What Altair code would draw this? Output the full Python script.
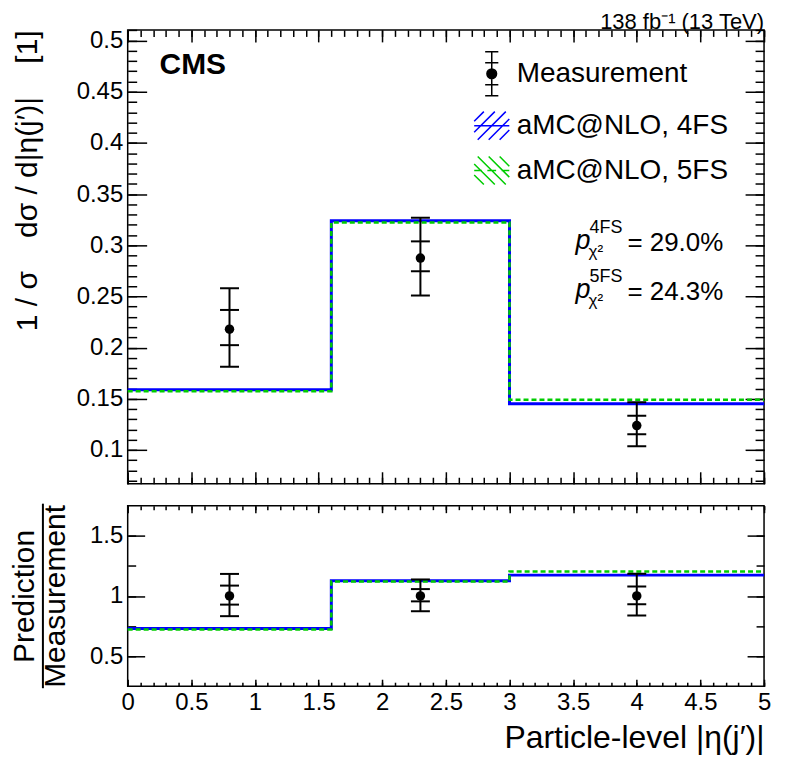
import altair as alt
import pandas as pd

# ---------------- data ----------------
bin_edges = [0.0, 1.6, 3.0, 5.0]
bin_centers = [0.8, 2.3, 4.0]

meas = [0.218, 0.2875, 0.1238]
meas_tot_lo = [0.1813, 0.2509, 0.1037]
meas_tot_hi = [0.2580, 0.3269, 0.1466]
meas_stat_lo = [0.2024, 0.2746, 0.1154]
meas_stat_hi = [0.2368, 0.3038, 0.1335]
pred_4fs = [0.1589, 0.3240, 0.1452]
pred_5fs = [0.1573, 0.3223, 0.1490]

ratio_meas = [1.0, 1.0, 1.0]
ratio_tot_lo = [0.832, 0.873, 0.838]
ratio_tot_hi = [1.183, 1.137, 1.184]
ratio_stat_lo = [0.928, 0.955, 0.932]
ratio_stat_hi = [1.086, 1.057, 1.078]
ratio_4fs = [0.729, 1.127, 1.173]
ratio_5fs = [0.722, 1.121, 1.203]

series_names = ["Measurement", "aMC@NLO, 4FS", "aMC@NLO, 5FS"]

x_major = [0, 0.5, 1, 1.5, 2, 2.5, 3, 3.5, 4, 4.5, 5]
x_minor = [round(0.1 * i, 1) for i in range(51)]
top_y_major = [0.1, 0.15, 0.2, 0.25, 0.3, 0.35, 0.4, 0.45, 0.5]
top_y_minor = [round(0.07 + 0.01 * i, 2) for i in range(45)]
ratio_y_major = [0.5, 1.0, 1.5]
ratio_y_minor = [0.5, 0.75, 1.0, 1.25, 1.5]

p_text = [("4FS", "= 29.0%"), ("5FS", "= 24.3%")]

# ---------------- styles ----------------
BLUE = "#0000ff"
GREEN = "#00cc00"
FONT = "Liberation Sans"
W = 638
H_TOP = 455
H_RATIO = 181

X_SC = alt.Scale(domain=[0, 5], nice=False, zero=False)
Y_TOP = alt.Scale(domain=[0.067, 0.5104], nice=False, zero=False)
Y_RAT = alt.Scale(domain=[0.25, 1.75], nice=False, zero=False)


def tick_axis(orient, values, size, **kw):
    base = dict(orient=orient, values=values, tickSize=size, offset=-size,
                domain=False, grid=False, ticks=True, tickColor="black",
                tickWidth=1.5, labels=False, title=None, minExtent=0)
    base.update(kw)
    return alt.Axis(**base)


def axis_layer(df, ysc, xaxis, yaxis):
    return alt.Chart(df).mark_point(opacity=0).encode(
        x=alt.X("x:Q", scale=X_SC, axis=xaxis),
        y=alt.Y("y:Q", scale=ysc, axis=yaxis),
    )


def step_df(vals):
    return pd.DataFrame({"x": bin_edges, "y": vals + [vals[-1]]})


def data_layers(ysc, centers, vals, tlo, thi, slo, shi, v4, v5):
    df = pd.DataFrame({"x": centers, "y": vals, "tlo": tlo, "thi": thi,
                       "slo": slo, "shi": shi})
    caps = pd.DataFrame({"x": centers * 4, "y": tlo + thi + slo + shi})
    X = alt.X("x:Q", scale=X_SC, axis=None)
    l4 = alt.Chart(step_df(v4)).mark_line(
        interpolate="step-after", color=BLUE, strokeWidth=3).encode(
        x=X, y=alt.Y("y:Q", scale=ysc, axis=None))
    l5 = alt.Chart(step_df(v5)).mark_line(
        interpolate="step-after", color=GREEN, strokeWidth=2.5,
        strokeDash=[5, 3]).encode(
        x=X, y=alt.Y("y:Q", scale=ysc, axis=None))
    bars = alt.Chart(df).mark_rule(color="black", strokeWidth=2).encode(
        x=X, y=alt.Y("tlo:Q", scale=ysc, axis=None), y2="thi:Q")
    capm = alt.Chart(caps).mark_tick(
        orient="horizontal", size=19, thickness=2, color="black",
        opacity=1).encode(x=X, y=alt.Y("y:Q", scale=ysc, axis=None))
    pts = alt.Chart(df).mark_circle(size=90, color="black", opacity=1).encode(
        x=X, y=alt.Y("y:Q", scale=ysc, axis=None))
    return [l4, l5, bars, capm, pts]


def text_layer(text, x, y, size, **kw):
    return alt.Chart(pd.DataFrame({"t": [text]})).mark_text(
        align="left", baseline="alphabetic", fontSize=size, font=FONT,
        color="black", **kw).encode(x=alt.value(x), y=alt.value(y), text="t:N")


# ---------------- top panel ----------------
top_df = pd.DataFrame({"x": bin_centers, "y": meas})

top_axes = [
    axis_layer(top_df, Y_TOP,
               tick_axis("bottom", x_major, 12),
               tick_axis("left", top_y_major, 19, labels=True, format=".2~f",
                         labelFontSize=24, labelPadding=5, labelFlush=False,
                         labelOverlap=False,
                         title="1 / σ\u00a0\u00a0\u00a0\u00a0dσ / d|η(j′)|\u00a0\u00a0\u00a0\u00a0[1]",
                         titleFontSize=30, titleFontWeight="normal",
                         titleAnchor="end", titlePadding=34)),
    axis_layer(top_df, Y_TOP,
               tick_axis("bottom", x_minor, 6.5),
               tick_axis("left", top_y_minor, 9)),
    axis_layer(top_df, Y_TOP,
               tick_axis("top", x_major, 12),
               tick_axis("right", top_y_major, 19)),
    axis_layer(top_df, Y_TOP,
               tick_axis("top", x_minor, 6.5),
               tick_axis("right", top_y_minor, 9)),
]

paths = [
    "M0,-1L0,1M-0.3,-1L0.3,-1M-0.3,1L0.3,1M-0.3,-0.5L0.3,-0.5M-0.3,0.5L0.3,0.5"
    "M-0.22,0A0.22,0.22,0,1,0,0.22,0A0.22,0.22,0,1,0,-0.22,0Z",
    "M-0.8,0L0.8,0M-0.8,-0.2L-0.36,-0.64M-0.8,0.3L0.14,-0.64M-0.64,0.64L0.64,-0.64"
    "M-0.14,0.64L0.8,-0.3M0.36,0.64L0.8,0.2",
    "M-0.8,0L-0.45,0M-0.2,0L0.2,0M0.45,0L0.8,0M0.8,-0.2L0.36,-0.64M0.8,0.3L-0.14,-0.64"
    "M0.64,0.64L-0.64,-0.64M0.14,0.64L-0.8,-0.3M-0.36,0.64L-0.8,0.2",
]
leg = alt.Legend(title=None, orient="none", legendX=342, legendY=21,
                 symbolSize=1936, symbolStrokeWidth=1.5, labelFontSize=28,
                 labelFont=FONT, labelColor="black", labelOffset=2,
                 labelLimit=400, rowPadding=4, padding=0)
leg_df = pd.DataFrame({"series": series_names, "x": [-1.0] * 3, "y": [0.3] * 3})
legend_layer = alt.Chart(leg_df).mark_point(
    filled=True, opacity=1, clip=True, size=1936, strokeWidth=1.5).encode(
    x=alt.X("x:Q", scale=X_SC, axis=None),
    y=alt.Y("y:Q", scale=Y_TOP, axis=None),
    color=alt.Color("series:N", scale=alt.Scale(domain=series_names,
                    range=["black", BLUE, GREEN]), legend=leg),
    stroke=alt.Stroke("series:N", scale=alt.Scale(domain=series_names,
                      range=["black", BLUE, GREEN]), legend=leg),
    shape=alt.Shape("series:N", scale=alt.Scale(domain=series_names,
                    range=paths), legend=leg),
)

annot = [text_layer("CMS", 32, 44, 30, fontWeight="bold")]
for i, (sup, val) in enumerate(p_text):
    dy = 49 * i
    annot += [
        text_layer("p", 449, 220 + dy, 27, fontStyle="italic"),
        text_layer(sup, 463, 204 + dy, 18),
        text_layer("χ²", 462, 228 + dy, 17),
        text_layer(val, 501, 222 + dy, 26),
    ]

top = alt.layer(
    *top_axes,
    *data_layers(Y_TOP, bin_centers, meas, meas_tot_lo, meas_tot_hi,
                 meas_stat_lo, meas_stat_hi, pred_4fs, pred_5fs),
    legend_layer,
    *annot,
).properties(
    width=W, height=H_TOP,
    title=alt.Title("138 fb⁻¹ (13 TeV)", anchor="end", frame="group",
                    fontSize=22, fontWeight="normal", font=FONT, offset=-5,
                    color="black"),
).resolve_axis(x="independent", y="independent")

# ---------------- ratio panel ----------------
rat_df = pd.DataFrame({"x": bin_centers, "y": ratio_meas})
ratio_axes = [
    axis_layer(rat_df, Y_RAT,
               tick_axis("bottom", x_major, 7, labels=True, format="~g",
                         labelFontSize=24, labelPadding=4, labelFlush=False,
                         labelOverlap=False,
                         title="Particle-level |η(j′)|", titleFontSize=32,
                         titleFontWeight="normal", titleAnchor="end",
                         titlePadding=8),
               tick_axis("left", ratio_y_major, 17, labels=True, format="~g",
                         labelFontSize=24, labelPadding=5, labelFlush=False,
                         labelOverlap=False,
                         title=["Prediction", "Measurement"],
                         titleFontSize=30, titleFontWeight="normal",
                         titleLineHeight=31, titlePadding=19)),
    axis_layer(rat_df, Y_RAT,
               tick_axis("bottom", x_minor, 4),
               tick_axis("left", ratio_y_minor, 8)),
    axis_layer(rat_df, Y_RAT,
               tick_axis("top", x_major, 7),
               tick_axis("right", ratio_y_major, 17)),
    axis_layer(rat_df, Y_RAT,
               tick_axis("top", x_minor, 4),
               tick_axis("right", ratio_y_minor, 8)),
]
frac_bar = alt.Chart(pd.DataFrame({"t": [0]})).mark_rule(
    color="black", strokeWidth=2).encode(
    x=alt.value(-85), y=alt.value(-2), y2=alt.value(183))

ratio = alt.layer(
    *ratio_axes,
    *data_layers(Y_RAT, bin_centers, ratio_meas, ratio_tot_lo, ratio_tot_hi,
                 ratio_stat_lo, ratio_stat_hi, ratio_4fs, ratio_5fs),
    frac_bar,
).properties(width=W, height=H_RATIO).resolve_axis(
    x="independent", y="independent")

chart = alt.vconcat(top, ratio, spacing=16).properties(
    padding={"left": 0, "top": 0, "right": 8, "bottom": 4}
).configure(font=FONT).configure_view(
    stroke="black", strokeWidth=1.5
).configure_axis(
    labelFont=FONT, titleFont=FONT, labelColor="black", titleColor="black"
)

chart.save("out.html", embed_options={"renderer": "svg", "actions": False})
